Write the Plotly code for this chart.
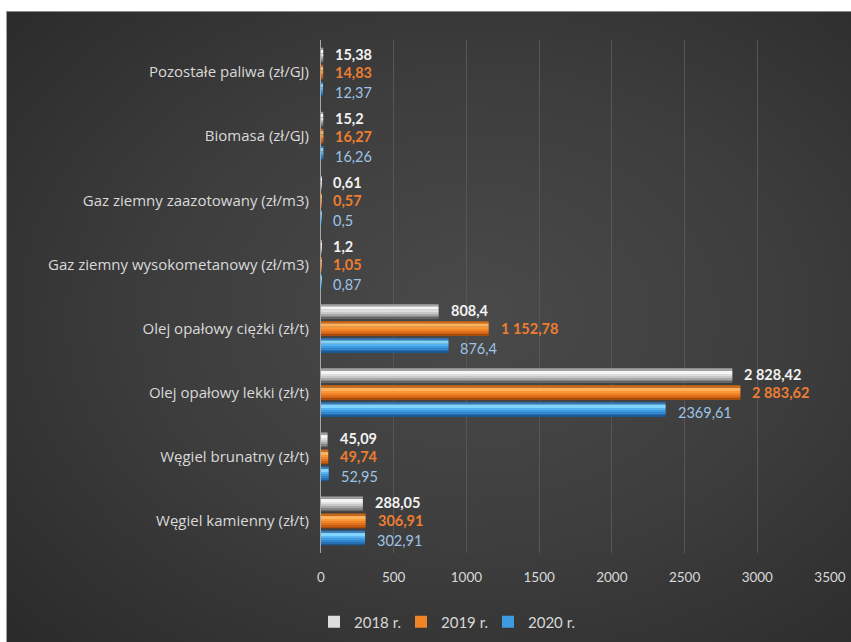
import base64
import plotly.graph_objects as go

# ---- data -----------------------------------------------------------------
categories = [
    "Węgiel kamienny (zł/t)",
    "Węgiel brunatny (zł/t)",
    "Olej opałowy lekki (zł/t)",
    "Olej opałowy ciężki (zł/t)",
    "Gaz ziemny wysokometanowy (zł/m3)",
    "Gaz ziemny zaazotowany (zł/m3)",
    "Biomasa (zł/GJ)",
    "Pozostałe paliwa (zł/GJ)",
]
v2018 = [288.05, 45.09, 2828.42, 808.4, 1.2, 0.61, 15.2, 15.38]
v2019 = [306.91, 49.74, 2883.62, 1152.78, 1.05, 0.57, 16.27, 14.83]
v2020 = [302.91, 52.95, 2369.61, 876.4, 0.87, 0.5, 16.26, 12.37]

l2018 = ["288,05", "45,09", "2 828,42", "808,4", "1,2", "0,61", "15,2", "15,38"]
l2019 = ["306,91", "49,74", "2 883,62", "1 152,78", "1,05", "0,57", "16,27", "14,83"]
l2020 = ["302,91", "52,95", "2369,61", "876,4", "0,87", "0,5", "16,26", "12,37"]

x_ticks = [0, 500, 1000, 1500, 2000, 2500, 3000, 3500]
series_names = ["2018 r.", "2019 r.", "2020 r."]

# ---- styling ----------------------------------------------------------------
FONT = "Lato"
TXT = "#d9d9d9"
BAR_W = 0.23

# colour bands of each bar, listed bottom -> top as (start, end, colour)
# fractions of the bar thickness; they give the glossy bevelled look
series = [
    dict(name=series_names[0], vals=v2018, labels=l2018, center=0.265,
         bands=[(0.00, 0.14, "#666666"), (0.14, 0.26, "#858585"),
                (0.26, 0.38, "#a8a8a8"), (0.38, 0.50, "#c8c8c8"),
                (0.50, 0.62, "#dedede"), (0.62, 0.86, "#f5f5f5"),
                (0.86, 1.00, "#a4a4a4")],
         legend_band=4, label_color="#f2f2f2", bold=True, yshift=1),
    dict(name=series_names[1], vals=v2019, labels=l2019, center=0.0,
         bands=[(0.00, 0.14, "#a84c0c"), (0.14, 0.26, "#c85e14"),
                (0.26, 0.38, "#e0701e"), (0.38, 0.50, "#f08426"),
                (0.50, 0.62, "#f99534"), (0.62, 0.86, "#ffb25c"),
                (0.86, 1.00, "#d06814")],
         legend_band=3, label_color="#ed7d31", bold=True, yshift=0),
    dict(name=series_names[2], vals=v2020, labels=l2020, center=-0.265,
         bands=[(0.00, 0.14, "#1b5894"), (0.14, 0.26, "#256fb4"),
                (0.26, 0.38, "#3186ce"), (0.38, 0.50, "#3f9be0"),
                (0.50, 0.62, "#55b2ee"), (0.62, 0.86, "#80d4ff"),
                (0.86, 1.00, "#3478b8")],
         legend_band=3, label_color="#9dc3e6", bold=False, yshift=-3),
]

idx = list(range(len(categories)))
fig = go.Figure()

for s in series:
    lo = s["center"] - BAR_W / 2
    for k, (a, b, col) in enumerate(s["bands"]):
        fig.add_trace(go.Bar(
            x=s["vals"], y=idx, orientation="h", name=s["name"],
            offset=lo + BAR_W * a, width=BAR_W * (b - a),
            marker=dict(color=col, line=dict(width=0)),
            showlegend=(k == s["legend_band"]), legendgroup=s["name"],
            hoverinfo="x+name" if k == s["legend_band"] else "skip"))

# value labels at the end of every bar
annotations = []
for s in series:
    for i, (v, t) in enumerate(zip(s["vals"], s["labels"])):
        txt = f"<b>{t}</b>" if s["bold"] else t
        annotations.append(dict(
            x=v, y=i + s["center"], xref="x", yref="y", text=txt,
            showarrow=False, xanchor="left", yanchor="middle",
            xshift=10, yshift=s["yshift"],
            font=dict(family=FONT, size=14.5, color=s["label_color"])))

# dark radial-gradient backdrop for the chart panel
svg = (
    '<svg xmlns="http://www.w3.org/2000/svg" width="845" height="631" '
    'viewBox="0 0 845 631" preserveAspectRatio="none">'
    '<defs><radialGradient id="g" cx="55%" cy="48%" r="75%">'
    '<stop offset="0" stop-color="#4a4a4a"/>'
    '<stop offset="0.5" stop-color="#3d3d3d"/>'
    '<stop offset="1" stop-color="#2a2a2a"/>'
    '</radialGradient></defs>'
    '<rect width="845" height="631" fill="url(#g)"/></svg>'
)
bg_src = "data:image/svg+xml;base64," + base64.b64encode(svg.encode()).decode()

L, R, T, B = 321, 21, 40, 89
W, H = 851, 642
pw, ph = W - L - R, H - T - B


def px_x(px):
    return (px - L) / pw


def px_y(py):
    return (H - B - py) / ph


fig.update_layout(
    width=W, height=H,
    margin=dict(l=L, r=R, t=T, b=B, pad=0, autoexpand=False),
    paper_bgcolor="#2c2c2c",
    plot_bgcolor="rgba(0,0,0,0)",
    barmode="overlay",
    font=dict(family=FONT, color=TXT, size=13),
    images=[dict(
        source=bg_src, xref="paper", yref="paper",
        x=px_x(6), y=px_y(11), sizex=(W + 4 - 6) / pw, sizey=(H + 4 - 11) / ph,
        xanchor="left", yanchor="top", sizing="stretch", layer="below")],
    shapes=[
        # white page strips above and left of the dark panel
        dict(type="rect", xref="paper", yref="paper",
             x0=px_x(-2), x1=px_x(W + 2), y0=px_y(11), y1=px_y(-2),
             line=dict(width=0), fillcolor="white", layer="below"),
        dict(type="rect", xref="paper", yref="paper",
             x0=px_x(-2), x1=px_x(6), y0=px_y(H + 2), y1=px_y(11),
             line=dict(width=0), fillcolor="white", layer="below"),
        # thin light rim on the panel's top and left edges
        dict(type="line", xref="paper", yref="paper",
             x0=px_x(6), x1=px_x(W + 2), y0=px_y(11.5), y1=px_y(11.5),
             line=dict(color="#8a8a8a", width=1), layer="below"),
        dict(type="line", xref="paper", yref="paper",
             x0=px_x(6.5), x1=px_x(6.5), y0=px_y(11), y1=px_y(H + 2),
             line=dict(color="#a0a0a0", width=1), layer="below"),
    ],
    xaxis=dict(
        range=[0, 3500], tickvals=x_ticks, ticktext=[str(t) for t in x_ticks],
        showgrid=True, gridcolor="#565656", gridwidth=1,
        zeroline=False, showline=False, ticks="",
        ticklabelstandoff=14, automargin=False,
        tickfont=dict(family=FONT, size=13.5, color=TXT),
        fixedrange=True),
    yaxis=dict(
        range=[-0.5, 7.5], tickvals=idx, ticktext=categories,
        showgrid=False, zeroline=False,
        showline=True, linecolor="#a6a6a6", linewidth=1,
        ticks="", ticklabelstandoff=8, automargin=False,
        tickfont=dict(family="Open Sans", size=15, color=TXT),
        fixedrange=True),
    legend=dict(
        orientation="h", x=px_x(314), y=px_y(622),
        xanchor="left", yanchor="middle",
        bgcolor="rgba(0,0,0,0)", itemwidth=30,
        entrywidth=42, entrywidthmode="pixels",
        font=dict(family=FONT, size=15, color=TXT),
        traceorder="normal"),
    annotations=annotations,
)

fig.write_html(
    "out.html",
    config={"responsive": False, "displayModeBar": False},
    post_script="document.body.style.margin='0';"
                "document.body.style.overflow='hidden';",
)
